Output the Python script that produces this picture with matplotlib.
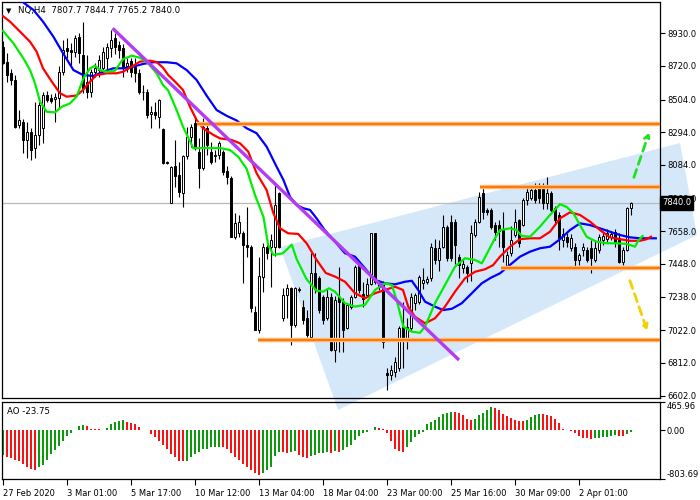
import matplotlib
matplotlib.use('Agg')
import matplotlib.pyplot as plt
import matplotlib.transforms as mtransforms
from matplotlib.patches import Polygon
import numpy as np

# NQ H4 candles
opens = [8845, 8748, 8675, 8630, 8341, 8362, 8245, 8298, 8191, 8277,
         8320, 8534, 8514, 8505, 8512, 8683, 8834, 8823, 8808, 8908,
         8790, 8619, 8555, 8683, 8694, 8705, 8770, 8834, 8898, 8855,
         8834, 8720, 8750, 8716, 8673, 8556, 8555, 8410, 8426, 8394,
         8315, 8100, 7838, 8078, 8020, 7904, 8142, 8266, 8354, 8170,
         8063, 8321, 8170, 8140, 8148, 8170, 8048, 7998, 7623, 7650,
         7645, 7570, 7559, 7141, 7024, 7367, 7559, 7559, 7559, 7902,
         7100, 7249, 7292, 7056, 7280, 7174, 7100, 6981, 7392, 7356,
         7238, 7099, 7238, 6896, 7238, 7206, 7035, 7174, 7238, 7442,
         7258, 7249, 7322, 7645, 7333, 7322, 6746, 6735, 6756, 6778,
         7045, 6960, 7035, 7195, 7206, 7324, 7330, 7356, 7549, 7474,
         7559, 7688, 7720, 7720, 7495, 7420, 7431, 7452, 7634, 7720,
         7902, 7795, 7795, 7698, 7700, 7666, 7431, 7517, 7634, 7730,
         7698, 7859, 7870, 7923, 7945, 7945, 7838, 7902, 7808, 7763,
         7600, 7623, 7550, 7559, 7474, 7540, 7538, 7549, 7474, 7538,
         7600, 7610, 7620, 7655, 7613, 7463, 7538, 7807.7]
highs = [8880, 8803, 8700, 8660, 8437, 8380, 8362, 8320, 8490, 8523,
         8555, 8560, 8540, 8545, 8720, 8887, 8898, 8868, 8920, 8930,
         9004, 8790, 8700, 8740, 8790, 8840, 8870, 8951, 8935, 8880,
         8860, 8770, 8770, 8770, 8700, 8600, 8570, 8460, 8490, 8510,
         8320, 8110, 8080, 8245, 8105, 8150, 8330, 8345, 8400, 8260,
         8386, 8345, 8230, 8180, 8240, 8180, 8080, 8010, 7775, 7760,
         7660, 7816, 7570, 7180, 7495, 7580, 7600, 7640, 7977, 7910,
         7294, 7320, 7300, 7300, 7300, 7215, 7150, 7518, 7518, 7370,
         7250, 7290, 7260, 7240, 7431, 7230, 7200, 7250, 7440, 7470,
         7330, 7360, 7650, 7650, 7345, 7340, 6780, 6800, 6850, 7050,
         7206, 7100, 7260, 7260, 7380, 7420, 7370, 7580, 7610, 7600,
         7763, 7700, 7763, 7735, 7515, 7480, 7440, 7700, 7740, 7912,
         7940, 7810, 7810, 7720, 7730, 7780, 7530, 7690, 7800, 7740,
         7870, 7935, 7950, 7970, 7966, 7966, 8009, 7920, 7820, 7780,
         7680, 7650, 7640, 7580, 7520, 7580, 7560, 7600, 7600, 7640,
         7660, 7670, 7660, 7670, 7650, 7560, 7815, 7844.7]
lows = [8730, 8617, 8600, 8322, 8322, 8161, 8129, 8115, 8127, 8212,
        8225, 8490, 8480, 8362, 8450, 8660, 8771, 8726, 8780, 8739,
        8545, 8514, 8520, 8650, 8650, 8690, 8700, 8780, 8800, 8770,
        8650, 8680, 8650, 8620, 8540, 8500, 8386, 8322, 8380, 8322,
        8090, 8090, 7838, 7945, 7880, 7816, 8120, 8200, 8180, 7936,
        8050, 8150, 8090, 8100, 8120, 8020, 7960, 7620, 7610, 7620,
        7326, 7495, 7141, 7024, 7005, 7270, 7480, 7302, 7500, 7550,
        7080, 7100, 6928, 7040, 7270, 7060, 6981, 6960, 7260, 7130,
        7060, 7090, 6890, 6820, 6884, 6884, 7030, 7160, 7230, 7260,
        7170, 7240, 7310, 7320, 7280, 6906, 6639, 6700, 6720, 6760,
        6778, 6900, 7020, 7150, 7190, 7290, 7320, 7340, 7450, 7400,
        7550, 7470, 7470, 7450, 7360, 7390, 7330, 7340, 7620, 7710,
        7740, 7760, 7670, 7600, 7560, 7460, 7420, 7500, 7620, 7560,
        7690, 7830, 7860, 7840, 7840, 7800, 7800, 7780, 7700, 7538,
        7560, 7560, 7530, 7420, 7440, 7500, 7460, 7388, 7460, 7520,
        7570, 7590, 7600, 7560, 7452, 7441, 7530, 7765.2]
closes = [8740, 8662, 8630, 8330, 8373, 8245, 8298, 8180, 8277, 8469,
          8534, 8502, 8495, 8520, 8683, 8823, 8817, 8810, 8902, 8802,
          8580, 8555, 8683, 8707, 8758, 8812, 8845, 8887, 8844, 8823,
          8716, 8740, 8680, 8673, 8555, 8550, 8405, 8426, 8405, 8502,
          8096, 8098, 8069, 8014, 7912, 8142, 8266, 8330, 8193, 8063,
          8330, 8212, 8105, 8150, 8225, 8041, 8009, 7623, 7711, 7720,
          7570, 7557, 7163, 7024, 7371, 7559, 7517, 7602, 7827, 7559,
          7249, 7294, 7056, 7292, 7290, 7088, 6992, 7392, 7285, 7152,
          7090, 7238, 6896, 7217, 7206, 7024, 7185, 7238, 7431, 7281,
          7226, 7322, 7645, 7333, 7300, 6947, 6735, 6767, 6820, 7035,
          6960, 7045, 7238, 7249, 7367, 7345, 7350, 7559, 7474, 7549,
          7688, 7485, 7485, 7570, 7442, 7450, 7388, 7645, 7720, 7880,
          7784, 7780, 7688, 7655, 7660, 7559, 7506, 7602, 7720, 7580,
          7859, 7912, 7923, 7859, 7870, 7838, 7902, 7795, 7730, 7613,
          7640, 7591, 7615, 7474, 7506, 7560, 7474, 7485, 7549, 7623,
          7630, 7650, 7640, 7581, 7463, 7538, 7806, 7840.0]

# Alligator lines (jaw / teeth / lips)
jaw_bar = [0, 2, 4.25, 7.6, 10, 12.6, 15, 17.6, 20, 22.6, 25, 27.6, 30, 32.6, 35, 37.6,
           40.9, 43.4, 45.9, 48.4, 50.9, 53.4, 55.9, 58.4, 60.9, 63.4, 65.9, 68.4, 70.1,
           71.75, 73.4, 75.1, 76.75, 78.4, 80.3, 83, 85.5, 88, 90.5, 93, 95.5, 98, 100.5,
           102.2, 103.8, 105.5, 108, 110, 112.2, 114.7, 117.2, 119.7, 122, 124.25, 126.75,
           129.25, 131.75, 134.25, 136.75, 139.25, 141.75, 144.25, 146.75, 149.25, 151.75,
           154.25, 156.75, 159.25, 163.2]
jaw_val = [9260, 9210, 9144, 9080, 9005, 8908, 8802, 8694, 8662, 8656, 8683, 8705, 8705,
           8716, 8733, 8744, 8744, 8737, 8694, 8630, 8530, 8437, 8400, 8370, 8320, 8288,
           8202, 8073, 7988, 7880, 7827, 7806, 7795, 7741, 7670, 7591, 7517, 7495, 7420,
           7345, 7324, 7317, 7334, 7340, 7281, 7206, 7174, 7152, 7160, 7196, 7260, 7324,
           7360, 7388, 7442, 7495, 7527, 7549, 7559, 7607, 7666, 7709, 7698, 7677, 7655,
           7634, 7619, 7613, 7613]
teeth_bar = [0, 1.75, 4.25, 6.75, 8.4, 10, 12.2, 14.25, 15.9, 18.4, 20, 21.75, 23.4, 25.9,
             28.4, 30, 32.2, 34.25, 36.75, 38.4, 40, 41.3, 43, 45, 46.75, 48.4, 50, 52.6,
             54.25, 57.1, 59.25, 61.3, 63.4, 65.9, 67.6, 69.25, 71.3, 73.8, 75.9, 78.4, 80.7,
             83, 85.5, 88, 90.5, 93, 95.5, 98, 100, 101.3, 103, 105.5, 108, 110.5, 113, 115.5,
             118, 120.5, 122.5, 124.25, 126.75, 129.25, 131.75, 134.25, 136.75, 139.25,
             141.75, 144.25, 146.75, 149.25, 151.75, 154.25, 156.75, 159.25, 160.9, 162]
teeth_val = [9040, 9005, 8941, 8876, 8812, 8705, 8619, 8545, 8523, 8530, 8566, 8619, 8662,
             8673, 8673, 8683, 8716, 8748, 8754, 8745, 8709, 8662, 8620, 8566, 8458, 8373,
             8320, 8277, 8255, 8245, 8223, 8170, 8031, 7923, 7774, 7677, 7645, 7641, 7581,
             7474, 7390, 7367, 7334, 7260, 7228, 7260, 7281, 7302, 7281, 7174, 7109, 7067,
             7099, 7174, 7270, 7356, 7398, 7414, 7440, 7495, 7559, 7607, 7613, 7613, 7655,
             7741, 7780, 7763, 7720, 7666, 7619, 7607, 7597, 7597, 7607, 7623]
lips_bar = [0, 2.6, 5.1, 6.75, 8, 9.25, 10.9, 13, 14.7, 16.75, 18.4, 20.1, 21.75, 23, 24.25,
            25.9, 28, 30, 32.2, 34.25, 36.3, 38.4, 40, 41.3, 43.4, 45, 47.6, 50, 51.75, 54.25,
            56.75, 58.8, 60.9, 63, 65.1, 66.3, 67.6, 70, 72.2, 73.4, 75.9, 78.4, 80, 81.5, 83,
            85.5, 88, 90.5, 93, 95.5, 97.2, 98.4, 100.1, 102.2, 104.25, 105.5, 108, 110.5, 113,
            115.5, 118, 119.7, 121.5, 123, 124.25, 126.75, 128.4, 129.7, 131.75, 134.25,
            136.75, 139.25, 140.9, 142.6, 144.25, 145.9, 148.4, 150.9, 153.4, 155.9, 158,
            158.8, 159.9]
lips_val = [8945, 8866, 8769, 8694, 8609, 8491, 8426, 8422, 8458, 8480, 8523, 8641, 8705,
            8722, 8694, 8683, 8690, 8764, 8786, 8773, 8737, 8673, 8598, 8562, 8437, 8330,
            8191, 8193, 8193, 8193, 8180, 8137, 8060, 7890, 7752, 7570, 7506, 7517, 7572,
            7480, 7350, 7276, 7270, 7292, 7270, 7196, 7174, 7185, 7281, 7324, 7313, 7217,
            7045, 7013, 7006, 7045, 7196, 7313, 7431, 7485, 7474, 7452, 7540, 7613, 7666,
            7677, 7666, 7628, 7623, 7688, 7763, 7832, 7815, 7774, 7698, 7623, 7591, 7581,
            7581, 7577, 7559, 7597, 7628]

# Awesome Oscillator, one value per bar
ao = [-409, -436, -463, -490, -501, -556, -600, -643, -654, -610,
      -572, -480, -392, -327, -262, -174, -98, -44, 11, 65,
      87, 65, 27, 22, 16, 11, 33, 109, 136, 153,
      169, 136, 125, 98, 54, 11, -5, -65, -109, -174,
      -245, -316, -382, -436, -501, -507, -501, -436, -392, -354,
      -316, -300, -283, -280, -272, -275, -316, -371, -436, -490,
      -556, -610, -654, -698, -736, -698, -654, -600, -420, -350,
      -365, -375, -360, -345, -400, -440, -450, -430, -400, -380,
      -370, -360, -370, -345, -350, -327, -283, -245, -153, -98,
      -54, -27, 11, 44, 40, 27, -44, -174, -316, -338,
      -354, -283, -191, -109, -65, -27, 93, 136, 174, 218,
      262, 283, 300, 294, 283, 245, 191, 164, 191, 245,
      283, 338, 381, 371, 327, 272, 229, 196, 174, 150,
      147, 174, 218, 251, 262, 260, 251, 229, 191, 120,
      27, 2, -11, -54, -98, -120, -131, -140, -136, -125,
      -115, -110, -100, -85, -90, -95, -70, -23.75]

price_ticks = [8930, 8720, 8504, 8294, 8084, 7868, 7658, 7448, 7238, 7022, 6812, 6602]
date_bars = [0, 16, 32, 48, 64, 80, 96, 112, 128, 144]
date_labels = ['27 Feb 2020', '3 Mar 01:00', '5 Mar 17:00', '10 Mar 12:00', '13 Mar 04:00',
               '18 Mar 04:00', '23 Mar 00:00', '25 Mar 16:00', '30 Mar 09:00', '2 Apr 01:00']

# drawn objects (bar, price)
levels = [8345, 7941, 7420, 6958]
level_start = [48.4, 119.25, 124.4, 63.8]
trend_bar = [27.4, 114]
trend_price = [8962, 6831]
channel_bar = [69.25, 83.75, 173.5, 169.25]
channel_price = [7557, 6510, 7634, 8225]
up_arrow = [(157.5, 7987), (161.75, 8308)]
down_arrow = [(156.5, 7358), (161.25, 7005)]

plt.rcParams['font.family'] = ['DejaVu Sans']
plt.rcParams['font.size'] = 6.0

fig = plt.figure(figsize=(7, 5), dpi=100)
ax = fig.add_axes([2 / 700, 102 / 500, 658 / 700, 396 / 500])
ao_ax = fig.add_axes([2 / 700, 20.7 / 500, 658 / 700, 77.6 / 500], sharex=ax)
ao_ax.patch.set_alpha(0)

n = len(closes)
idx = np.arange(n)
o = np.array(opens)
c = np.array(closes)
h = np.array(highs)
l = np.array(lows)
up = c >= o

ax.add_patch(Polygon(list(zip(channel_bar, channel_price)), closed=True,
                     fc='#D5E8FA', ec='none', zorder=0, clip_on=False))
ax.axhline(closes[-1], color='#B8B8B8', lw=0.9, zorder=1)

# candles
ax.vlines(idx, l, h, color='black', lw=0.8, zorder=2)
ax.bar(idx, np.abs(c - o), bottom=np.minimum(o, c), width=0.72,
       color=np.where(up, 'white', 'black'), edgecolor='black', linewidth=0.7, zorder=3)

# alligator
ax.plot(jaw_bar, jaw_val, color='#0000FF', lw=1.6, zorder=4)
ax.plot(teeth_bar, teeth_val, color='#FF0000', lw=1.6, zorder=4)
ax.plot(lips_bar, lips_val, color='#00EE00', lw=1.6, zorder=4)

xmax = 164.25
for lv, st in zip(levels, level_start):
    ax.hlines(lv, st, xmax, color='#FFBE8A', lw=3.2, zorder=5)
    ax.hlines(lv, st, xmax, color='#FF7A00', lw=1.6, zorder=5)
ax.plot(trend_bar, trend_price, color='#B43CF0', lw=2.4, zorder=5, solid_capstyle='butt')

ax.annotate('', xy=up_arrow[1], xytext=up_arrow[0],
            arrowprops=dict(arrowstyle='->,head_length=0.5,head_width=0.3', color='#22E022',
                            lw=2, linestyle=(0, (3, 2))), zorder=6)
ax.annotate('', xy=down_arrow[1], xytext=down_arrow[0],
            arrowprops=dict(arrowstyle='->,head_length=0.5,head_width=0.3', color='#F5D000',
                            lw=2, linestyle=(0, (3, 2))), zorder=6)

ax.set_xlim(-0.25, xmax)
ax.set_ylim(6587, 9131)
ax.yaxis.tick_right()
ax.set_yticks(price_ticks)
ax.set_yticklabels(['%.1f' % v for v in price_ticks])
ax.tick_params(axis='y', direction='out', length=3.5, pad=1.5, width=0.8)
ax.tick_params(axis='x', bottom=False, labelbottom=False)
for s in ax.spines.values():
    s.set_linewidth(0.9)

trans = mtransforms.blended_transform_factory(ax.transAxes, ax.transData)
ax.text(1.003, closes[-1], '%.1f' % closes[-1], transform=trans, color='white',
        ha='left', va='center', zorder=10, clip_on=False,
        bbox=dict(fc='black', ec='black', pad=1.6))

ax.text(0.0106, 0.978, '\u25bc', transform=ax.transAxes, fontsize=5, ha='center', va='center')
ax.text(0.0245, 0.978, 'NQ,H4  %.1f %.1f %.1f %.1f' % (opens[-1], highs[-1], lows[-1], closes[-1]),
        transform=ax.transAxes, ha='left', va='center', fontsize=6.2)

# AO histogram
ao_arr = np.array(ao)
rising = np.concatenate([[True], ao_arr[1:] >= ao_arr[:-1]])
ao_ax.bar(idx, ao_arr, width=0.3, color=np.where(rising, '#0A9A0A', '#FF1010'),
          edgecolor='none')
ao_ax.set_ylim(-803.69, 465.96)
ao_ax.yaxis.tick_right()
ao_ax.set_yticks([465.96, 0, -803.69])
ao_ax.set_yticklabels(['465.96', '0.00', '-803.69'])
ylabs = ao_ax.get_yticklabels()
ylabs[0].set_va('top')
ylabs[2].set_va('bottom')
ao_ax.tick_params(axis='y', direction='out', length=3.5, pad=1.5, width=0.8)
ao_ax.set_xticks(date_bars)
ao_ax.set_xticklabels(date_labels, ha='left')
ao_ax.tick_params(axis='x', direction='out', length=4, pad=3, width=0.8)
for s in ao_ax.spines.values():
    s.set_linewidth(0.9)
ao_ax.text(0.0076, 0.87, 'AO %.2f' % ao[-1], transform=ao_ax.transAxes, ha='left',
           va='center', fontsize=6.2)

fig.savefig('out.png', dpi=100)
